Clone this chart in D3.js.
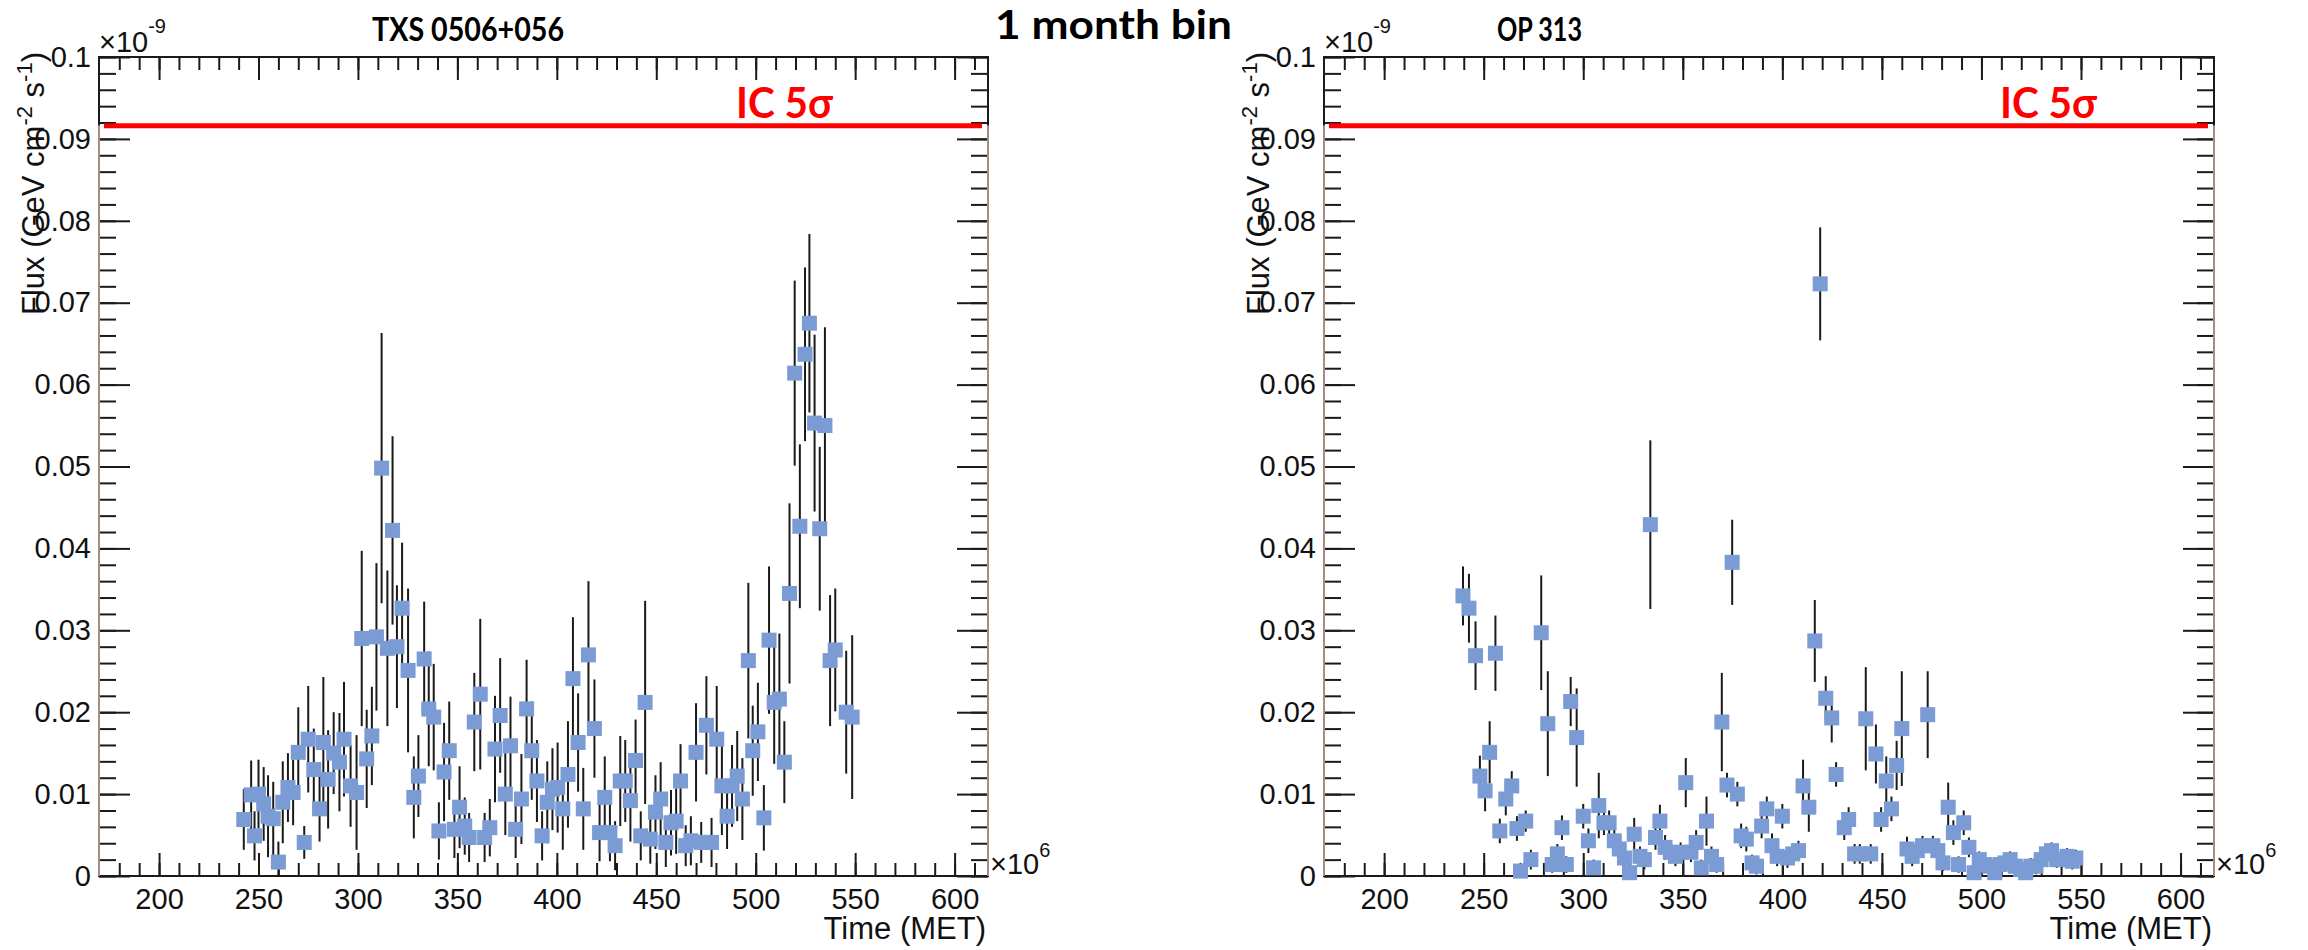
<!DOCTYPE html>
<html>
<head>
<meta charset="utf-8">
<script src="https://cdn.jsdelivr.net/npm/d3@7"></script>
<style>
  body { margin: 0; background: #fff; }
  svg { display: block; }
</style>
</head>
<body>
<svg id="chart" width="2308" height="950"></svg>
<script>
// ---- monthly-binned light curves (time in 10^6 s MET, flux in 10^-9 GeV cm^-2 s^-1) ----
const txsTime = [242.6,246.3,248.0,250.0,252.6,254.8,257.4,260.0,262.2,264.8,
  267.4,270.0,273.0,275.0,277.8,280.7,282.6,285.0,287.8,290.7,
  293.0,296.3,299.3,301.9,304.4,307.0,309.3,311.9,314.8,317.4,
  319.6,322.2,325.2,328.1,330.4,333.3,335.6,338.1,340.7,343.3,
  345.9,348.5,351.1,353.7,355.9,358.5,361.5,363.7,366.3,368.9,
  371.5,374.1,376.7,379.3,382.2,384.8,387.4,390.0,392.6,395.2,
  397.8,400.4,403.0,405.6,408.1,410.7,413.3,415.9,418.9,421.5,
  424.1,426.7,429.3,431.9,434.4,437.0,439.6,442.2,444.4,447.0,
  449.6,452.2,454.8,457.4,460.0,462.2,464.8,467.4,470.0,472.6,
  475.2,477.8,480.4,483.0,485.6,488.1,490.7,493.3,496.3,498.5,
  501.1,504.1,506.7,509.3,511.9,514.4,517.0,519.6,522.2,524.8,
  527.0,529.6,532.2,534.8,537.4,540.0,545.5,548.5];
const txsFlux = [0.0069,0.0099,0.0049,0.0100,0.0088,0.0073,0.0070,0.0017,0.0090,0.0108,
  0.0102,0.0151,0.0041,0.0167,0.0130,0.0082,0.0163,0.0118,0.0150,0.0139,
  0.0167,0.0110,0.0102,0.0290,0.0143,0.0171,0.0292,0.0498,0.0278,0.0422,
  0.0280,0.0327,0.0251,0.0096,0.0122,0.0265,0.0204,0.0194,0.0055,0.0127,
  0.0153,0.0057,0.0084,0.0061,0.0047,0.0188,0.0222,0.0047,0.0059,0.0155,
  0.0196,0.0100,0.0159,0.0057,0.0094,0.0204,0.0153,0.0116,0.0049,0.0090,
  0.0106,0.0108,0.0082,0.0124,0.0241,0.0163,0.0082,0.0270,0.0180,0.0053,
  0.0096,0.0053,0.0037,0.0116,0.0116,0.0092,0.0141,0.0049,0.0212,0.0045,
  0.0078,0.0094,0.0041,0.0065,0.0067,0.0116,0.0037,0.0043,0.0151,0.0041,
  0.0184,0.0041,0.0167,0.0110,0.0073,0.0110,0.0122,0.0094,0.0263,0.0153,
  0.0176,0.0071,0.0288,0.0212,0.0216,0.0139,0.0345,0.0614,0.0427,0.0637,
  0.0675,0.0553,0.0424,0.0550,0.0263,0.0276,0.0200,0.0194];
const txsErr = [0.0037,0.0042,0.0030,0.0042,0.0045,0.0050,0.0045,0.0025,0.0050,0.0042,
  0.0040,0.0055,0.0020,0.0065,0.0050,0.0040,0.0080,0.0060,0.0050,0.0060,
  0.0070,0.0050,0.0070,0.0107,0.0060,0.0060,0.0090,0.0165,0.0095,0.0115,
  0.0075,0.0080,0.0100,0.0050,0.0050,0.0070,0.0070,0.0065,0.0035,0.0060,
  0.0060,0.0035,0.0050,0.0035,0.0030,0.0060,0.0092,0.0030,0.0035,0.0065,
  0.0070,0.0050,0.0060,0.0035,0.0055,0.0060,0.0060,0.0050,0.0030,0.0050,
  0.0050,0.0055,0.0050,0.0065,0.0075,0.0060,0.0050,0.0090,0.0060,0.0035,
  0.0050,0.0035,0.0030,0.0055,0.0050,0.0050,0.0050,0.0030,0.0124,0.0030,
  0.0045,0.0045,0.0030,0.0040,0.0040,0.0045,0.0025,0.0030,0.0060,0.0025,
  0.0060,0.0030,0.0065,0.0060,0.0040,0.0050,0.0055,0.0050,0.0095,0.0055,
  0.0060,0.0040,0.0090,0.0075,0.0080,0.0050,0.0110,0.0113,0.0100,0.0106,
  0.0109,0.0108,0.0100,0.0120,0.0080,0.0075,0.0075,0.0100];

const opTime = [239.6,242.6,245.9,248.1,250.7,253.0,255.9,258.1,261.1,264.1,
  266.7,268.5,271.1,273.7,278.9,282.2,284.4,287.0,289.3,291.5,
  293.7,296.7,300.0,302.6,305.2,307.8,310.4,313.0,315.6,318.1,
  320.7,323.3,325.6,328.5,330.7,333.7,336.3,338.5,341.1,343.7,
  346.3,348.9,351.5,354.1,356.7,359.3,361.9,364.4,367.0,369.6,
  372.2,374.8,377.4,379.3,381.9,384.8,387.0,389.6,392.2,394.8,
  397.4,400.0,402.6,405.2,408.1,410.4,413.3,416.3,419.0,421.8,
  424.8,427.0,431.1,433.3,436.3,438.9,441.9,444.4,447.0,449.6,
  452.2,454.8,457.4,460.0,462.6,465.2,467.8,470.4,473.0,475.6,
  478.1,480.7,483.3,485.9,488.5,491.1,493.7,496.3,498.9,501.5,
  504.1,506.7,509.3,511.9,514.4,517.0,519.6,522.2,524.8,527.4,
  530.0,532.6,535.2,537.8,540.4,543.0,545.6,547.4];
const opFlux = [0.0342,0.0327,0.0269,0.0122,0.0104,0.0151,0.0272,0.0055,0.0094,0.0110,
  0.0058,0.0006,0.0067,0.0020,0.0297,0.0186,0.0014,0.0027,0.0059,0.0014,
  0.0213,0.0169,0.0073,0.0043,0.0010,0.0086,0.0065,0.0065,0.0043,0.0033,
  0.0022,0.0004,0.0051,0.0024,0.0020,0.0429,0.0047,0.0067,0.0035,0.0029,
  0.0024,0.0029,0.0114,0.0029,0.0041,0.0010,0.0067,0.0024,0.0014,0.0188,
  0.0111,0.0383,0.0100,0.0049,0.0045,0.0016,0.0012,0.0061,0.0082,0.0037,
  0.0024,0.0073,0.0022,0.0027,0.0031,0.0110,0.0084,0.0287,0.0723,0.0217,
  0.0193,0.0124,0.0059,0.0069,0.0027,0.0027,0.0192,0.0027,0.0149,0.0069,
  0.0116,0.0082,0.0135,0.0180,0.0033,0.0024,0.0031,0.0037,0.0197,0.0037,
  0.0031,0.0016,0.0084,0.0053,0.0014,0.0065,0.0035,0.0004,0.0020,0.0014,
  0.0012,0.0004,0.0014,0.0016,0.0020,0.0012,0.0008,0.0004,0.0012,0.0012,
  0.0020,0.0027,0.0031,0.0020,0.0020,0.0024,0.0018,0.0022];
const opErr = [0.0036,0.0042,0.0042,0.0025,0.0025,0.0038,0.0046,0.0015,0.0020,0.0018,
  0.0015,0.0010,0.0013,0.0012,0.0070,0.0064,0.0010,0.0012,0.0015,0.0010,
  0.0030,0.0060,0.0015,0.0015,0.0010,0.0040,0.0015,0.0015,0.0015,0.0015,
  0.0012,0.0010,0.0020,0.0012,0.0012,0.0103,0.0015,0.0020,0.0015,0.0012,
  0.0012,0.0012,0.0030,0.0012,0.0015,0.0010,0.0030,0.0012,0.0010,0.0060,
  0.0015,0.0052,0.0015,0.0015,0.0015,0.0010,0.0010,0.0015,0.0015,0.0015,
  0.0012,0.0015,0.0012,0.0012,0.0012,0.0032,0.0030,0.0050,0.0069,0.0027,
  0.0030,0.0015,0.0015,0.0015,0.0012,0.0012,0.0063,0.0012,0.0036,0.0015,
  0.0030,0.0015,0.0030,0.0070,0.0015,0.0012,0.0012,0.0012,0.0053,0.0012,
  0.0012,0.0010,0.0030,0.0015,0.0010,0.0015,0.0012,0.0010,0.0010,0.0010,
  0.0010,0.0010,0.0010,0.0010,0.0010,0.0010,0.0010,0.0010,0.0010,0.0010,
  0.0010,0.0010,0.0010,0.0010,0.0010,0.0010,0.0010,0.0010];

// IceCube 5-sigma discovery level (same units)
const icLevel = 0.0916;

// axis ticks
const xMajorTicks = [200, 250, 300, 350, 400, 450, 500, 550, 600];
const yMajorTicks = [0, 0.01, 0.02, 0.03, 0.04, 0.05, 0.06, 0.07, 0.08, 0.09, 0.1];
const yTickLabels = ["0", "0.01", "0.02", "0.03", "0.04", "0.05", "0.06", "0.07", "0.08", "0.09", "0.1"];
const xDomain = [169.8, 616.8];
const yDomain = [0, 0.1];

const svg = d3.select("#chart");
svg.append("rect").attr("width", 2308).attr("height", 950).attr("fill", "#fff");

const axisFont = "'Liberation Sans', Arimo, Arial, sans-serif";
const titleFont = "Lato, 'Open Sans', sans-serif";
const frameBrown = "#a88b82";
const markerColor = "#7b9bd4";
const inkColor = "#111";

const panels = [
  { name: "TXS 0506+056", time: txsTime, flux: txsFlux, err: txsErr,
    left: 99, right: 988, titleX: 372, titleW: 192, icX: 736 },
  { name: "OP 313", time: opTime, flux: opFlux, err: opErr,
    left: 1324, right: 2214, titleX: 1497, titleW: 85, icX: 2000 }
];
const frameTop = 57, frameBottom = 876;

panels.forEach(p => {
  const x = d3.scaleLinear().domain(xDomain).range([p.left, p.right]);
  const y = d3.scaleLinear().domain(yDomain).range([frameBottom, frameTop]);
  const g = svg.append("g");

  const xMinor = d3.range(180, 617, 10);
  const yMinor = d3.range(0, 0.1001, 0.002);

  // bottom axis
  const bx = g.append("g").attr("transform", `translate(0,${frameBottom})`);
  bx.append("g").call(d3.axisBottom(x).tickValues(xMinor).tickSize(-13).tickFormat(""));
  bx.append("g").call(d3.axisBottom(x).tickValues(xMajorTicks).tickSizeInner(-23).tickSizeOuter(0)
      .tickPadding(12).tickFormat(d3.format("d")));
  // top axis
  const tx = g.append("g").attr("transform", `translate(0,${frameTop})`);
  tx.append("g").call(d3.axisTop(x).tickValues(xMinor).tickSize(-13).tickFormat(""));
  tx.append("g").call(d3.axisTop(x).tickValues(xMajorTicks).tickSize(-23).tickFormat(""));
  // left axis
  const ly = g.append("g").attr("transform", `translate(${p.left},0)`);
  ly.append("g").call(d3.axisLeft(y).tickValues(yMinor).tickSize(-17).tickFormat(""));
  ly.append("g").call(d3.axisLeft(y).tickValues(yMajorTicks).tickSizeInner(-31).tickSizeOuter(0).tickPadding(8)
      .tickFormat((d, i) => yTickLabels[i]));
  // right axis
  const ry = g.append("g").attr("transform", `translate(${p.right},0)`);
  ry.append("g").call(d3.axisRight(y).tickValues(yMinor).tickSize(-17).tickFormat(""));
  ry.append("g").call(d3.axisRight(y).tickValues(yMajorTicks).tickSize(-31).tickFormat(""));

  g.selectAll(".domain").remove();
  g.selectAll(".tick line").attr("stroke", "#1a1a1a").attr("stroke-width", 2);
  g.selectAll(".tick text").attr("font-family", axisFont).attr("font-size", 29).attr("fill", inkColor);

  // frame
  const yIc = y(icLevel);
  g.append("line").attr("x1", p.left - 1).attr("x2", p.right + 1).attr("y1", frameTop).attr("y2", frameTop)
    .attr("stroke", "#1a1a1a").attr("stroke-width", 2);
  g.append("line").attr("x1", p.left - 1).attr("x2", p.right + 1).attr("y1", frameBottom).attr("y2", frameBottom)
    .attr("stroke", "#1a1a1a").attr("stroke-width", 2);
  [p.left, p.right].forEach(xx => {
    g.append("line").attr("x1", xx).attr("x2", xx).attr("y1", frameTop).attr("y2", yIc)
      .attr("stroke", "#1a1a1a").attr("stroke-width", 2);
    g.append("line").attr("x1", xx).attr("x2", xx).attr("y1", yIc).attr("y2", frameBottom)
      .attr("stroke", frameBrown).attr("stroke-width", 2);
  });

  // multipliers
  const m9 = g.append("text").attr("x", p.left).attr("y", 52)
    .attr("font-family", axisFont).attr("font-size", 29).attr("fill", inkColor);
  m9.append("tspan").text("\u00d710");
  m9.append("tspan").attr("font-size", 20).attr("dy", -19).text("-9");
  const m6 = g.append("text").attr("x", p.right + 2).attr("y", 874)
    .attr("font-family", axisFont).attr("font-size", 29).attr("fill", inkColor);
  m6.append("tspan").text("\u00d710");
  m6.append("tspan").attr("font-size", 20).attr("dy", -17).text("6");

  // axis titles
  g.append("text").attr("x", p.right - 2).attr("y", 939).attr("text-anchor", "end")
    .attr("font-family", axisFont).attr("font-size", 31).attr("fill", inkColor).text("Time (MET)");
  const yl = g.append("text")
    .attr("transform", `translate(${p.left - 55},52) rotate(-90)`)
    .attr("text-anchor", "end").attr("font-family", axisFont).attr("font-size", 31).attr("fill", inkColor);
  yl.append("tspan").text("Flux (GeV cm");
  yl.append("tspan").attr("font-size", 22).attr("dy", -12).text("-2");
  yl.append("tspan").attr("dy", 12).text(" s");
  yl.append("tspan").attr("font-size", 22).attr("dy", -12).text("-1");
  yl.append("tspan").attr("dy", 12).text(")");

  // error bars
  const pts = p.time.map((t, i) => ({ t, f: p.flux[i], e: p.err[i] }));
  g.append("g").selectAll("line").data(pts).join("line")
    .attr("x1", d => x(d.t)).attr("x2", d => x(d.t))
    .attr("y1", d => y(Math.max(0, d.f - d.e))).attr("y2", d => y(d.f + d.e))
    .attr("stroke", "#1a1a1a").attr("stroke-width", 2);
  // markers
  g.append("g").selectAll("rect").data(pts).join("rect")
    .attr("x", d => x(d.t) - 7.5).attr("y", d => y(d.f) - 7.5)
    .attr("width", 15).attr("height", 15).attr("fill", markerColor);

  // IceCube level
  g.append("line").attr("x1", p.left + 5).attr("x2", p.right - 6).attr("y1", yIc).attr("y2", yIc)
    .attr("stroke", "#ff0000").attr("stroke-width", 5);
  g.append("text").attr("x", p.icX).attr("y", 118).attr("font-family", titleFont).attr("font-weight", 700)
    .attr("font-size", 42).attr("fill", "#ff0000").attr("textLength", 97).attr("lengthAdjust", "spacingAndGlyphs")
    .text("IC 5\u03c3");

  // panel title
  g.append("text").attr("x", p.titleX).attr("y", 41).attr("font-family", titleFont).attr("font-weight", 700)
    .attr("font-size", 33).attr("fill", "#000").attr("textLength", p.titleW).attr("lengthAdjust", "spacingAndGlyphs")
    .text(p.name);
});

svg.append("text").attr("x", 995).attr("y", 39).attr("font-family", titleFont).attr("font-weight", 700)
  .attr("font-size", 40).attr("fill", "#000").attr("textLength", 237).attr("lengthAdjust", "spacingAndGlyphs")
  .text("1 month bin");
</script>
</body>
</html>
